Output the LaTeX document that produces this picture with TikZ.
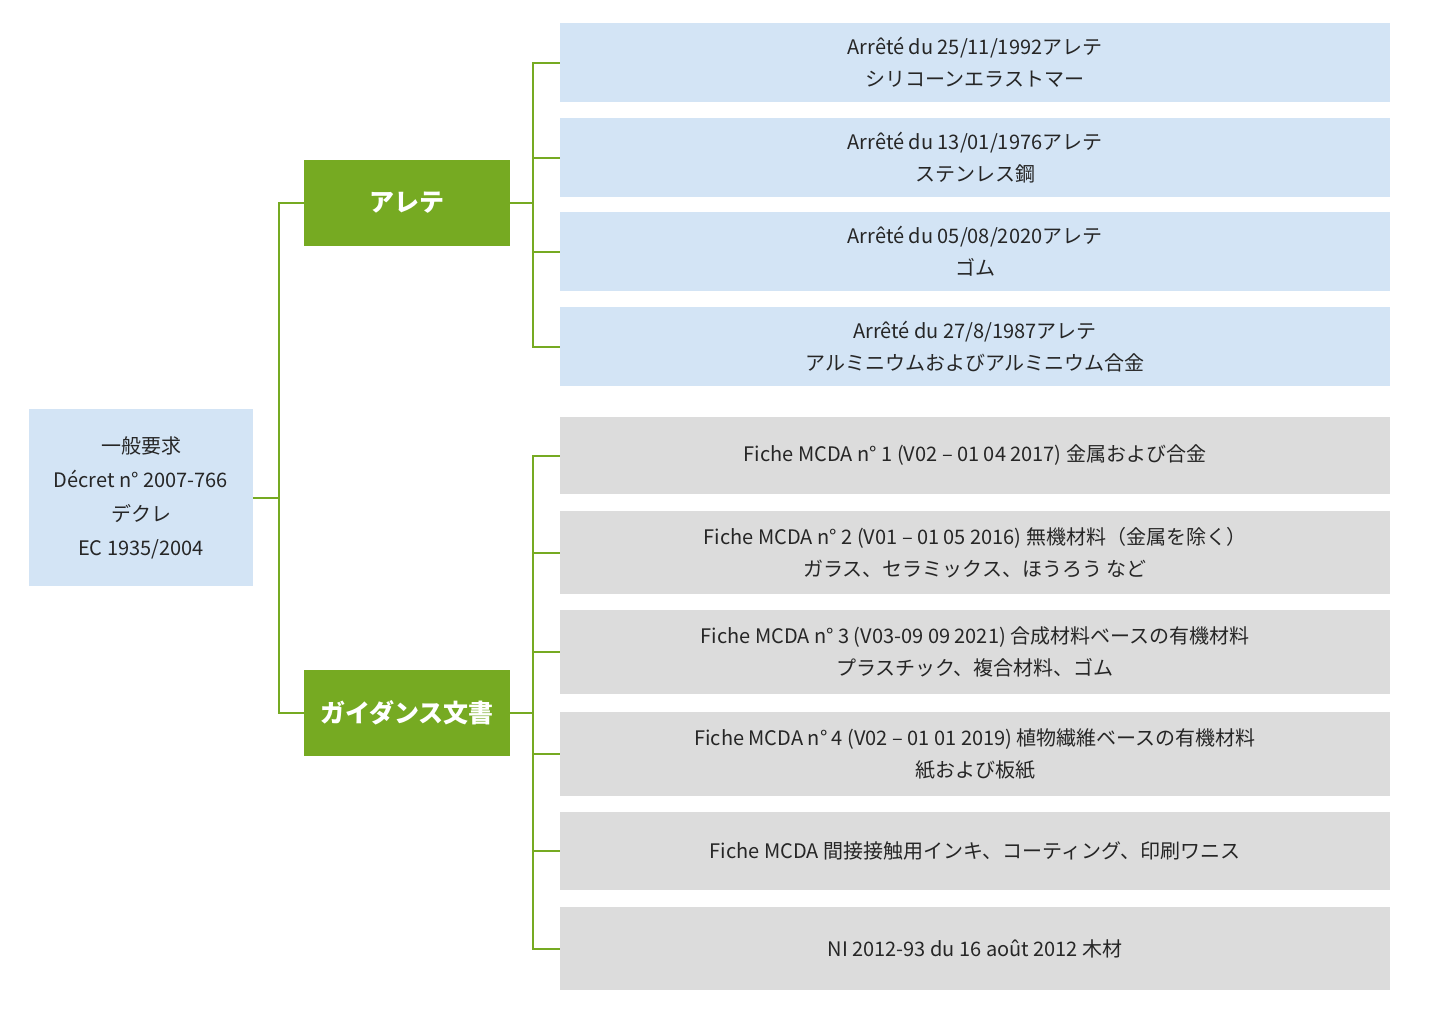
\documentclass[tikz,border=0pt]{standalone}
\usepackage{fontspec}
\setmainfont{Noto Sans CJK JP}
\definecolor{legblue}{HTML}{D3E4F5}
\definecolor{leggray}{HTML}{DCDCDC}
\definecolor{leggreen}{HTML}{76AA22}
\tikzset{
  root/.style={fill=legblue, minimum width=224pt, minimum height=177pt, align=center, font=\fontsize{20}{34}\selectfont, text=black!85},
  cat/.style={fill=leggreen, minimum width=206pt, minimum height=86pt, align=center, text=white, font=\fontsize{25}{30}\selectfont\bfseries},
  arr/.style={fill=legblue, minimum width=830pt, minimum height=79pt, align=center, font=\fontsize{20}{32}\selectfont, text=black!85},
  fiche/.style={fill=leggray, minimum width=830pt, align=center, font=\fontsize{20}{32}\selectfont, text=black!85},
  link/.style={draw=leggreen, line width=2pt}
}
\begin{document}
\begin{tikzpicture}[x=1pt,y=-1pt]
\useasboundingbox (0,0) rectangle (1448,1015);
\node[root] (gen) at (141,497.5) {一般要求\\Décret n° 2007-766\\デクレ\\EC 1935/2004};
\node[cat] (are) at (407,202.5) {アレテ};
\node[cat] (gui) at (407,713) {ガイダンス文書};
% arretes
\node[arr] (a1) at (975,62.5) {Arrêté du 25/11/1992アレテ\\シリコーンエラストマー};
\node[arr] (a2) at (975,157.5) {Arrêté du 13/01/1976アレテ\\ステンレス鋼};
\node[arr] (a3) at (975,251.5) {Arrêté du 05/08/2020アレテ\\ゴム};
\node[arr] (a4) at (975,346.5) {Arrêté du 27/8/1987アレテ\\アルミニウムおよびアルミニウム合金};
% fiches
\node[fiche, minimum height=77pt] (f1) at (975,455.5) {Fiche MCDA n° 1 (V02 – 01 04 2017) 金属および合金};
\node[fiche, minimum height=83pt] (f2) at (975,552.5) {Fiche MCDA n° 2 (V01 – 01 05 2016) 無機材料（金属を除く）\\ガラス、セラミックス、ほうろう など};
\node[fiche, minimum height=84pt] (f3) at (975,652) {Fiche MCDA n° 3 (V03-09 09 2021) 合成材料ベースの有機材料\\プラスチック、複合材料、ゴム};
\node[fiche, minimum height=84pt] (f4) at (975,754) {Fiche MCDA n° 4 (V02 – 01 01 2019) 植物繊維ベースの有機材料\\紙および板紙};
\node[fiche, minimum height=78pt] (f5) at (975,851) {Fiche MCDA 間接接触用インキ、コーティング、印刷ワニス};
\node[fiche, minimum height=83pt] (f6) at (975,948.5) {NI 2012-93 du 16 août 2012 木材};
% connectors
\foreach \c in {are,gui}
  \draw[link] (gen.east) -- ++(26,0) |- (\c.west);
\foreach \c in {a1,a2,a3,a4}
  \draw[link] (are.east) -- ++(23,0) |- (\c.west);
\foreach \c in {f1,f2,f3,f4,f5,f6}
  \draw[link] (gui.east) -- ++(23,0) |- (\c.west);
\end{tikzpicture}
\end{document}
